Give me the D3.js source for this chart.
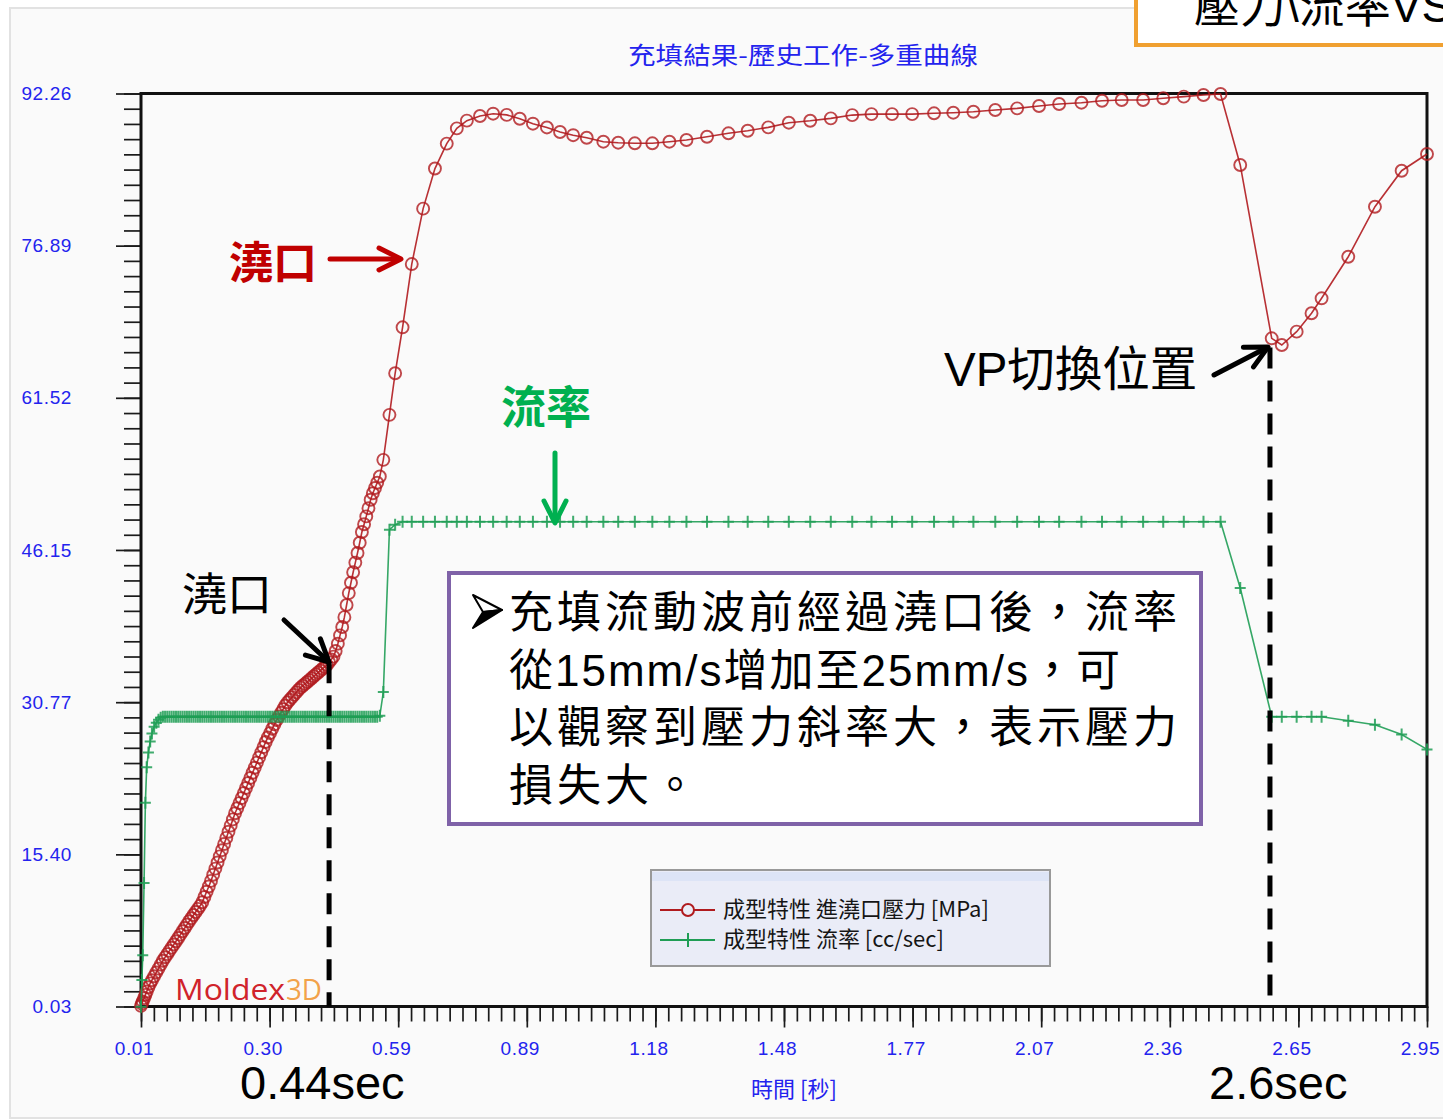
<!DOCTYPE html>
<html><head><meta charset="utf-8">
<script src="https://cdn.jsdelivr.net/npm/d3@7"></script>
<style>body{margin:0;background:#fff;} svg{display:block;}</style>
</head><body><svg id="c" width="1443" height="1120"></svg>
<script>
// ---------- data ----------
const time = [
0.010,0.012,0.014,0.017,0.020,0.023,0.027,0.031,
0.035,0.040,0.045,0.050,0.055,0.060,0.065,0.070,0.075,0.080,0.085,0.090,0.095,0.100,
0.105,0.110,0.115,0.120,0.125,0.130,0.135,0.140,0.145,0.150,0.155,0.160,0.165,0.170,
0.175,0.180,0.185,0.190,0.195,0.200,0.205,0.210,0.215,0.220,0.225,0.230,0.235,0.240,
0.245,0.250,0.255,0.260,0.265,0.270,0.275,0.280,0.285,0.290,0.295,0.300,0.305,0.310,
0.315,0.320,0.325,0.330,0.335,0.340,0.345,0.350,0.355,0.360,0.365,0.370,0.375,0.380,
0.385,0.390,0.395,0.400,0.405,0.410,0.415,0.420,0.425,0.430,0.435,0.440,0.445,0.450,
0.455,0.460,0.465,0.470,0.475,0.480,0.485,0.490,0.495,0.500,0.505,0.510,0.515,0.520,
0.525,0.530,0.535,0.540,0.545,0.550,
0.556,0.564,0.578,0.591,0.608,
0.629,0.655,0.682,0.709,0.732,0.755,0.785,0.815,0.846,0.876,
0.906,0.938,0.968,0.998,1.029,1.067,1.101,1.139,1.179,1.218,
1.257,1.304,1.353,1.397,1.444,1.491,1.540,1.587,1.636,1.680,
1.727,1.773,1.823,1.867,1.913,1.963,2.013,2.063,2.109,2.160,
2.207,2.252,2.301,2.347,2.394,2.439,2.478,
2.523,2.595,2.618,2.652,2.686,2.709,2.770,2.831,2.892,2.950];

const pressure = [
0.10,0.32,0.54,0.87,1.20,1.53,1.97,2.37,
2.68,3.08,3.47,3.86,4.26,4.65,5.00,5.32,5.65,5.97,6.30,6.62,6.95,7.29,
7.63,7.96,8.30,8.64,8.95,9.27,9.58,9.89,10.20,10.56,11.09,11.62,12.15,12.72,
13.34,13.96,14.58,15.20,15.82,16.44,17.06,17.68,18.30,18.93,19.55,20.06,20.57,21.08,
21.59,22.10,22.61,23.12,23.64,24.15,24.67,25.19,25.71,26.23,26.75,27.21,27.65,28.09,
28.53,28.97,29.34,29.70,30.07,30.44,30.76,31.01,31.26,31.51,31.76,32.02,32.24,32.43,
32.62,32.81,33.00,33.19,33.39,33.58,33.77,33.96,34.15,34.34,34.53,34.81,35.09,35.37,
35.94,36.68,37.52,38.37,39.36,40.59,41.79,42.84,43.90,44.87,45.84,46.88,47.96,48.75,
49.54,50.37,51.22,51.88,52.41,52.94,
53.57,55.25,59.80,64.00,68.64,
75.03,80.63,84.68,87.20,88.74,89.52,89.99,90.22,90.10,89.71,
89.21,88.83,88.37,88.05,87.79,87.39,87.29,87.23,87.23,87.39,
87.56,87.89,88.24,88.50,88.84,89.31,89.51,89.75,90.08,90.18,
90.18,90.18,90.26,90.32,90.42,90.59,90.76,91.00,91.20,91.33,
91.53,91.60,91.60,91.78,91.94,92.11,92.21,
85.04,67.53,66.85,68.20,70.06,71.57,75.77,80.82,84.46,86.15];

const flow = [
0.0,2.7,5.2,12.5,20.6,24.2,25.7,26.8,
27.6,28.3,28.7,29.0,29.2,29.3,29.3,29.3,29.3,29.3,29.3,29.3,29.3,29.3,
29.3,29.3,29.3,29.3,29.3,29.3,29.3,29.3,29.3,29.3,29.3,29.3,29.3,29.3,
29.3,29.3,29.3,29.3,29.3,29.3,29.3,29.3,29.3,29.3,29.3,29.3,29.3,29.3,
29.3,29.3,29.3,29.3,29.3,29.3,29.3,29.3,29.3,29.3,29.3,29.3,29.3,29.3,
29.3,29.3,29.3,29.3,29.3,29.3,29.3,29.3,29.3,29.3,29.3,29.3,29.3,29.3,
29.3,29.3,29.3,29.3,29.3,29.3,29.3,29.3,29.3,29.3,29.3,29.3,29.3,29.3,
29.3,29.3,29.3,29.3,29.3,29.3,29.3,29.3,29.3,29.3,29.3,29.3,29.3,29.3,
29.3,29.3,29.3,29.3,29.3,29.3,
29.4,31.8,48.2,48.7,49.0,
49.0,49.0,49.0,49.0,49.0,49.0,49.0,49.0,49.0,49.0,
49.0,49.0,49.0,49.0,49.0,49.0,49.0,49.0,49.0,49.0,
49.0,49.0,49.0,49.0,49.0,49.0,49.0,49.0,49.0,49.0,
49.0,49.0,49.0,49.0,49.0,49.0,49.0,49.0,49.0,49.0,
49.0,49.0,49.0,49.0,49.0,49.0,49.0,
42.3,29.3,29.3,29.3,29.3,29.3,28.9,28.5,27.5,26.0];

const yTickValues = [0.03,15.40,30.77,46.15,61.52,76.89,92.26];
const yTickLabels = ["0.03","15.40","30.77","46.15","61.52","76.89","92.26"];
const xTickValues = [0.01,0.304,0.598,0.892,1.186,1.48,1.774,2.068,2.362,2.656,2.95];
const xTickLabels = ["0.01","0.30","0.59","0.89","1.18","1.48","1.77","2.07","2.36","2.65","2.95"];

const chartTitle = "充填結果-歷史工作-多重曲線";
const xAxisTitle = "時間 [秒]";
const legendLabels = ["成型特性 進澆口壓力 [MPa]", "成型特性 流率 [cc/sec]"];
const noteLines = ["充填流動波前經過澆口後，流率", "從15mm/s增加至25mm/s，可", "以觀察到壓力斜率大，表示壓力", "損失大。"];

// ---------- drawing ----------
const svg = d3.select("#c");
const RED = "#b01a1e", GREEN = "#1f9d55", BLUE = "#2323ee";
const L = 141, R = 1427, T = 93.5, B = 1006.5;
const x = d3.scaleLinear().domain([0.01, 2.95]).range([L, R]);
const y = d3.scaleLinear().domain([0.03, 92.26]).range([B, T]);

// panel
svg.append("rect").attr("x",0).attr("y",0).attr("width",1443).attr("height",1120).attr("fill","#ffffff");
svg.append("rect").attr("x",10).attr("y",8).attr("width",1445).attr("height",1110)
  .attr("fill","#fafafa").attr("stroke","#e2e2e2").attr("stroke-width",2);

// title
svg.append("text").attr("x",803).attr("y",64).attr("text-anchor","middle")
  .attr("font-family","'Noto Sans CJK TC'").attr("font-size",24).attr("fill",BLUE)
  .attr("textLength",350).attr("lengthAdjust","spacingAndGlyphs").text(chartTitle);

// axes ticks
const xMinor = d3.range(101).map(i => 0.01 + i * 0.0294);
const yMinor = d3.range(61).map(i => 0.03 + i * (92.23 / 60));

const gxm = svg.append("g").attr("transform", `translate(0,${B})`)
  .call(d3.axisBottom(x).tickValues(xMinor).tickSize(15).tickFormat(""));
const gx = svg.append("g").attr("transform", `translate(0,${B})`)
  .call(d3.axisBottom(x).tickValues(xTickValues).tickSize(21).tickPadding(14)
    .tickFormat((d,i) => xTickLabels[i]));
const gym = svg.append("g").attr("transform", `translate(${L},0)`)
  .call(d3.axisLeft(y).tickValues(yMinor).tickSize(17).tickFormat(""));
const gy = svg.append("g").attr("transform", `translate(${L},0)`)
  .call(d3.axisLeft(y).tickValues(yTickValues).tickSize(25).tickPadding(44)
    .tickFormat((d,i) => yTickLabels[i]));
[gxm,gx,gym,gy].forEach(g => {
  g.select(".domain").remove();
  g.selectAll("line").attr("stroke","#1a1a1a").attr("stroke-width",1.7);
  g.selectAll("text").attr("fill",BLUE).attr("font-family","'Liberation Sans'")
    .attr("font-size",19).attr("letter-spacing",0.6);
});
gx.selectAll("text").attr("dx",-7);

// x axis title
svg.append("text").attr("x",794).attr("y",1097).attr("text-anchor","middle")
  .attr("font-family","'Noto Sans CJK TC'").attr("font-size",22).attr("fill",BLUE)
  .text(xAxisTitle);

// frame
svg.append("rect").attr("x",L).attr("y",T).attr("width",R-L).attr("height",B-T)
  .attr("fill","none").attr("stroke","#111").attr("stroke-width",3);

// Moldex3D logo
svg.append("text").attr("x",175).attr("y",1000)
  .attr("font-family","'Open Sans'").attr("font-size",30).attr("fill","#d0232b")
  .attr("textLength",110).attr("lengthAdjust","spacingAndGlyphs").text("Moldex");
svg.append("text").attr("x",286).attr("y",1000)
  .attr("font-family","'Open Sans'").attr("font-size",30).attr("fill","#f2a24a")
  .attr("textLength",36).attr("lengthAdjust","spacingAndGlyphs").text("3D");

const data = time.map((t,i) => ({t, p: pressure[i], f: flow[i]}));

// pressure series
svg.append("path").datum(data)
  .attr("d", d3.line().x(d => x(d.t)).y(d => y(d.p)))
  .attr("fill","none").attr("stroke",RED).attr("stroke-width",1.6).attr("opacity",0.9);
svg.append("g").selectAll("circle").data(data).join("circle")
  .attr("cx", d => x(d.t)).attr("cy", d => y(d.p)).attr("r",6)
  .attr("fill","none").attr("stroke",RED).attr("stroke-width",1.9).attr("opacity",0.8);

// flow series
svg.append("path").datum(data)
  .attr("d", d3.line().x(d => x(d.t)).y(d => y(d.f)))
  .attr("fill","none").attr("stroke",GREEN).attr("stroke-width",1.6).attr("opacity",0.9);
svg.append("g").selectAll("path").data(data).join("path")
  .attr("transform", d => `translate(${x(d.t)},${y(d.f)})`)
  .attr("d","M-5.5,0H5.5M0,-6V6")
  .attr("fill","none").attr("stroke",GREEN).attr("stroke-width",2).attr("opacity",0.85);

// legend
svg.append("rect").attr("x",651).attr("y",870).attr("width",399).attr("height",96)
  .attr("fill","#eaecf7").attr("stroke","#999").attr("stroke-width",2);
svg.append("rect").attr("x",652).attr("y",872).attr("width",397).attr("height",9)
  .attr("fill","#dde4f6");
svg.append("line").attr("x1",660).attr("x2",715).attr("y1",910).attr("y2",910)
  .attr("stroke",RED).attr("stroke-width",2);
svg.append("circle").attr("cx",688).attr("cy",910).attr("r",6)
  .attr("fill","#eaecf7").attr("stroke",RED).attr("stroke-width",2);
svg.append("line").attr("x1",660).attr("x2",715).attr("y1",940).attr("y2",940)
  .attr("stroke",GREEN).attr("stroke-width",2);
svg.append("path").attr("d","M688,933V947").attr("stroke",GREEN).attr("stroke-width",2);
legendLabels.forEach((s,i) => {
  svg.append("text").attr("x",723).attr("y",917 + i*30)
    .attr("font-family","'Noto Sans CJK TC'").attr("font-size",22).attr("fill","#151515")
    .text(s);
});

// ---------- annotations ----------
function arrow(x1,y1,x2,y2,color,w,hl,hw){
  const a = Math.atan2(y2-y1,x2-x1);
  const bx = x2 - hl*Math.cos(a), by = y2 - hl*Math.sin(a);
  const px = -Math.sin(a)*hw, py = Math.cos(a)*hw;
  const g = svg.append("g").attr("stroke",color).attr("stroke-width",w)
    .attr("fill","none").attr("stroke-linecap","round").attr("stroke-linejoin","round");
  g.append("line").attr("x1",x1).attr("y1",y1).attr("x2",x2-1.5*Math.cos(a)).attr("y2",y2-1.5*Math.sin(a));
  g.append("path").attr("d",`M${bx+px},${by+py}L${x2},${y2}L${bx-px},${by-py}`);
}

const CJK = "'Liberation Sans','Noto Sans CJK TC'";
// red 澆口 label
svg.append("text").attr("x",229).attr("y",279).attr("font-family","'Noto Sans CJK TC'")
  .attr("font-weight",700).attr("font-size",44).attr("fill","#c00000").text("澆口");
arrow(330,259,401,259,"#c00000",5,22,11);

// green 流率 label
svg.append("text").attr("x",501).attr("y",424).attr("font-family","'Noto Sans CJK TC'")
  .attr("font-weight",700).attr("font-size",45).attr("fill","#00b050").text("流率");
arrow(555,453,555,523,"#00b050",5,22,11);

// black 澆口 label and arrow
svg.append("text").attr("x",182).attr("y",611).attr("font-family","'Noto Sans CJK TC'")
  .attr("font-size",45).attr("fill","#000").text("澆口");
arrow(284,620,329,662,"#000",5,22,11);

// dashed guides
svg.append("line").attr("x1",x(0.44)).attr("x2",x(0.44)).attr("y1",y(34.8)).attr("y2",B)
  .attr("stroke","#000").attr("stroke-width",5).attr("stroke-dasharray","21,12");
svg.append("line").attr("x1",x(2.591)).attr("x2",x(2.591)).attr("y1",y(66.6)).attr("y2",B)
  .attr("stroke","#000").attr("stroke-width",5).attr("stroke-dasharray","21,12");

// VP label
svg.append("text").attr("x",944).attr("y",386).attr("font-family",CJK)
  .attr("font-size",47.5).attr("fill","#000").text("VP切換位置");
arrow(1214,375,1268,347,"#000",5,22,11);

// time labels
svg.append("text").attr("x",240).attr("y",1099).attr("font-family","'Liberation Sans'")
  .attr("font-size",47).attr("fill","#000").text("0.44sec");
svg.append("text").attr("x",1209).attr("y",1099).attr("font-family","'Liberation Sans'")
  .attr("font-size",47).attr("fill","#000").text("2.6sec");

// note box
svg.append("rect").attr("x",449).attr("y",573).attr("width",752).attr("height",251)
  .attr("fill","#fff").attr("stroke","#7f62a8").attr("stroke-width",4);
svg.append("path").attr("d","M473,595L502,610L483,612Z").attr("fill","#fff")
  .attr("stroke","#000").attr("stroke-width",2).attr("stroke-linejoin","round");
svg.append("path").attr("d","M483,612L502,610L473,628Z").attr("fill","#000")
  .attr("stroke","#000").attr("stroke-width",2).attr("stroke-linejoin","round");
const noteSpacing = [4, 2, 4, 4];
noteLines.forEach((s,i) => {
  svg.append("text").attr("x",509).attr("y",628 + i*57.5).attr("font-family",CJK)
    .attr("font-size",44).attr("letter-spacing",noteSpacing[i]).attr("fill","#000").text(s);
});

// orange title box (cut by the page top)
svg.append("rect").attr("x",1136).attr("y",-10).attr("width",330).attr("height",55)
  .attr("fill","#fff").attr("stroke","#f0a030").attr("stroke-width",4);
svg.append("text").attr("x",1194).attr("y",22).attr("font-family",CJK)
  .attr("font-size",46).attr("fill","#000").text("壓力\\流率VS");
</script></body></html>
